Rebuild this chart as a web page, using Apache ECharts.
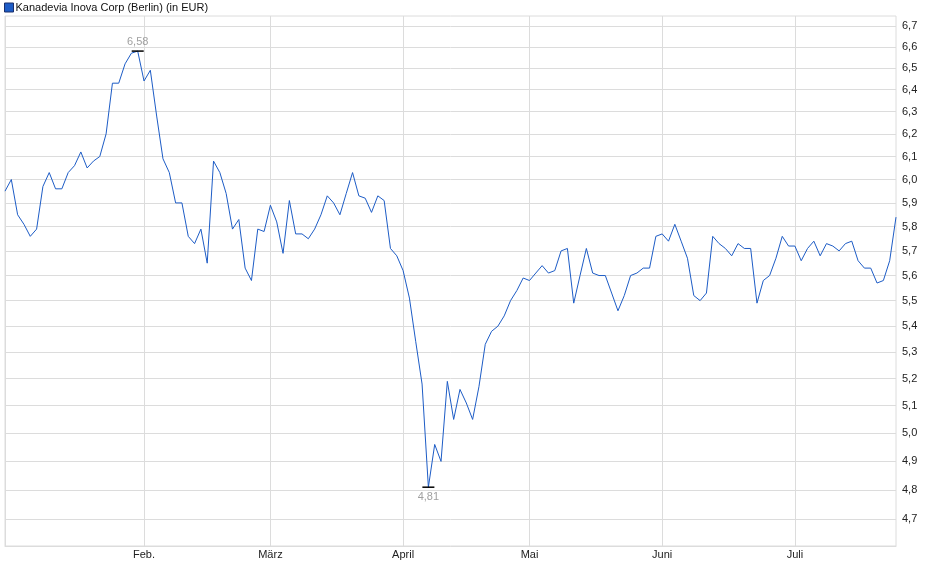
<!DOCTYPE html>
<html>
<head>
<meta charset="utf-8">
<script src="https://cdn.jsdelivr.net/npm/echarts@6/dist/echarts.min.js"></script>
<style>
html,body{margin:0;padding:0;background:#fff;}
#chart{width:940px;height:579px;}
</style>
</head>
<body>
<div id="chart"></div>
<script>
const seriesName = 'Kanadevia Inova Corp (Berlin) (in EUR)';
const monthNames = ['Jan.', 'Feb.', 'März', 'April', 'Mai', 'Juni', 'Juli'];
const tradingDaysPerMonth = [22, 20, 21, 20, 21, 21, 17];
const prices = [
  5.95, 6.00, 5.85, 5.81, 5.76, 5.79, 5.97, 6.03, 5.96, 5.96,
  6.03, 6.06, 6.12, 6.05, 6.08, 6.10, 6.20, 6.43, 6.43, 6.52,
  6.57, 6.58, 6.44, 6.49, 6.28, 6.09, 6.03, 5.90, 5.90, 5.76,
  5.73, 5.79, 5.65, 6.08, 6.03, 5.94, 5.79, 5.83, 5.63, 5.58,
  5.79, 5.78, 5.89, 5.82, 5.69, 5.91, 5.77, 5.77, 5.75, 5.79,
  5.85, 5.93, 5.90, 5.85, 5.94, 6.03, 5.93, 5.92, 5.86, 5.93,
  5.91, 5.71, 5.68, 5.62, 5.51, 5.34, 5.18, 4.81, 4.96, 4.90,
  5.19, 5.05, 5.16, 5.11, 5.05, 5.17, 5.33, 5.38, 5.40, 5.44,
  5.50, 5.54, 5.59, 5.58, 5.61, 5.64, 5.61, 5.62, 5.70, 5.71,
  5.49, 5.60, 5.71, 5.61, 5.60, 5.60, 5.53, 5.46, 5.52, 5.60,
  5.61, 5.63, 5.63, 5.76, 5.77, 5.74, 5.81, 5.74, 5.67, 5.52,
  5.50, 5.53, 5.76, 5.73, 5.71, 5.68, 5.73, 5.71, 5.71, 5.49,
  5.58, 5.60, 5.67, 5.76, 5.72, 5.72, 5.66, 5.71, 5.74, 5.68,
  5.73, 5.72, 5.70, 5.73, 5.74, 5.66, 5.63, 5.63, 5.57, 5.58,
  5.66, 5.84
];
const yTicks = [4.7, 4.8, 4.9, 5.0, 5.1, 5.2, 5.3, 5.4, 5.5, 5.6, 5.7, 5.8, 5.9, 6.0, 6.1, 6.2, 6.3, 6.4, 6.5, 6.6, 6.7];
const yMin = 4.611;
const yMax = 6.748;

const categories = [];
const monthStart = new Set();
monthNames.forEach((m, mi) => {
  for (let d = 0; d < tradingDaysPerMonth[mi]; d++) {
    if (d === 0) monthStart.add(categories.length);
    categories.push(m + ' ' + (d + 1));
  }
});

const fmt = (v, n) => Number(v).toFixed(n).replace('.', ',');
const FONT = 'Liberation Sans, Arial, sans-serif';
const LINE = '#1d5cc6';
const GRID = '#dcdcdc';

const chart = echarts.init(document.getElementById('chart'), null, {renderer: 'canvas'});
chart.setOption({
  animation: false,
  backgroundColor: '#fff',
  textStyle: {fontFamily: FONT},
  legend: {
    left: 4, top: 2, padding: 0,
    itemWidth: 9, itemHeight: 9, itemGap: 2,
    icon: 'rect',
    textStyle: {fontSize: 11, color: '#111', fontFamily: FONT, padding: [0,0,0,-3]},
    data: [{name: seriesName, itemStyle: {color: LINE, borderColor: '#1a2e6a', borderWidth: 1}}]
  },
  grid: {
    left: 5, right: 44, top: 16, bottom: 33,
    show: true, borderColor: GRID, borderWidth: 1
  },
  xAxis: {
    type: 'category',
    data: categories,
    boundaryGap: false,
    axisLine: {show: true, lineStyle: {color: GRID}},
    axisTick: {show: false},
    axisLabel: {
      interval: (i) => monthStart.has(i) && i > 0,
      formatter: (v) => v.split(' ')[0],
      color: '#222', fontSize: 11, fontFamily: FONT, margin: 3
    },
    splitLine: {
      show: true,
      interval: (i) => monthStart.has(i),
      lineStyle: {color: GRID, width: 1}
    }
  },
  yAxis: {
    type: 'log',
    logBase: 10,
    position: 'right',
    min: yMin, max: yMax,
    axisLine: {show: false},
    axisTick: {show: false},
    axisLabel: {show: false},
    splitLine: {show: false}
  },
  series: [{
    name: seriesName,
    type: 'line',
    data: prices,
    symbol: 'none',
    z: 3,
    lineStyle: {color: LINE, width: 1},
    itemStyle: {color: LINE},
    markLine: {
      silent: true,
      z: 1,
      symbol: ['none', 'none'],
      animation: false,
      lineStyle: {color: GRID, width: 1, type: 'solid'},
      label: {
        show: true, position: 'end', distance: 6,
        formatter: (p) => fmt(p.value, 1),
        color: '#222', fontSize: 11, fontFamily: FONT
      },
      emphasis: {disabled: true},
      data: yTicks.map(v => ({yAxis: v}))
    },
    markPoint: {
      silent: true,
      symbol: 'rect',
      symbolSize: [12, 1.5],
      itemStyle: {color: '#000'},
      label: {
        show: true, color: '#a0a0a0', fontSize: 11, fontFamily: FONT,
        formatter: (p) => fmt(p.value, 2)
      },
      data: [
        {type: 'max', label: {position: 'top', distance: 3}},
        {type: 'min', label: {position: 'bottom', distance: 4}}
      ]
    }
  }]
});
</script>
</body>
</html>
